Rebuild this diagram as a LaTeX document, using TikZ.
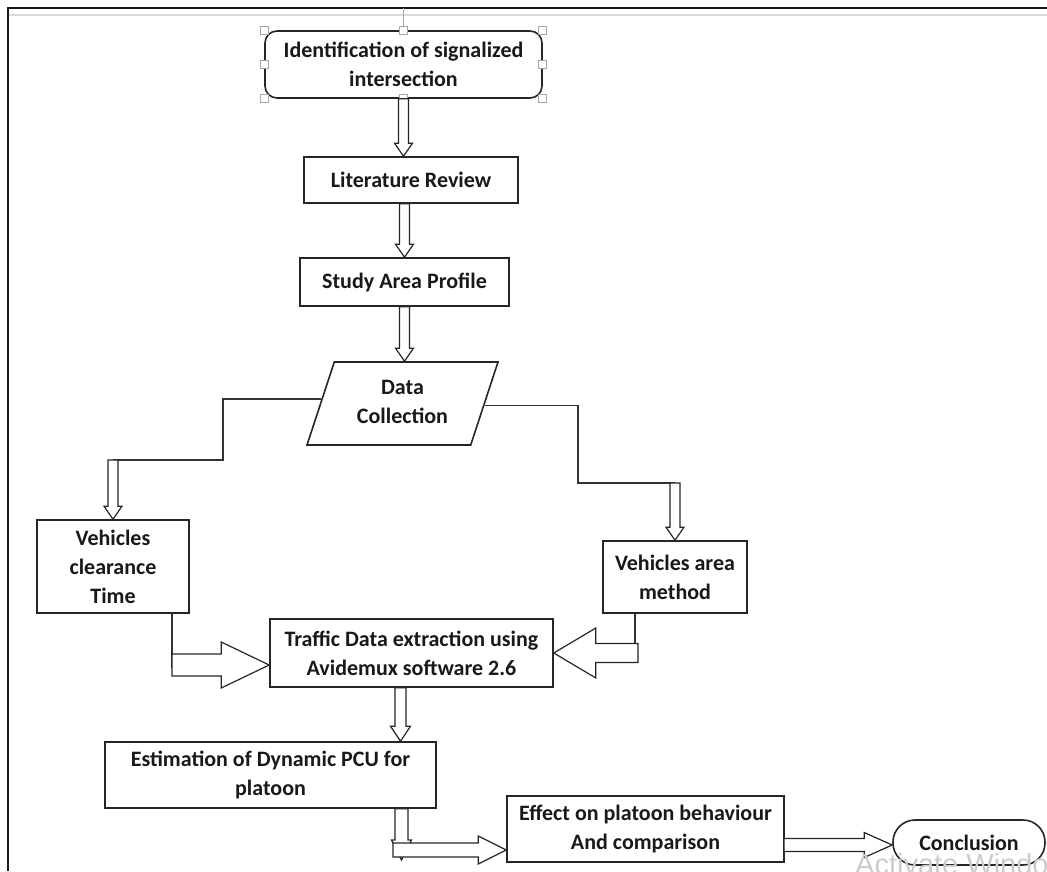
\documentclass[tikz,border=0pt]{standalone}
\usepackage{fontspec}
\setmainfont{Carlito}
\newfontfamily\wmfont{Liberation Sans}
\usetikzlibrary{calc,shapes.geometric}
\tikzset{
  box/.style={draw=black!85, line width=1.6pt, fill=white, inner sep=0pt, align=center,
    text=black!90, font=\bfseries\fontsize{22}{29}\selectfont},
  blk/.style={draw=black!85, line width=1.2pt, fill=white, line join=miter},
  conn/.style={draw=black!80, line width=1.4pt},
  handle/.style={draw=gray!70, fill=white, line width=0.8pt, minimum size=8pt, inner sep=0pt},
}
% block arrow: from, to, shaft half width, head half width, head length
\newcommand{\barrow}[5]{%
  \path[blk] let \p1=#1, \p2=#2, \n1={atan2(\y2-\y1,\x2-\x1)}, \n2={veclen(\x2-\x1,\y2-\y1)} in
    [shift={(\p1)}, rotate=\n1]
    (0pt,#3pt) -- ({(\n2-#5)*1pt},#3pt) -- ({(\n2-#5)*1pt},#4pt) -- ({\n2*1pt},0pt)
    -- ({(\n2-#5)*1pt},-#4pt) -- ({(\n2-#5)*1pt},-#3pt) -- (0pt,-#3pt) -- cycle;}
\begin{document}
\begin{tikzpicture}[x=1pt,y=-1pt]
\useasboundingbox (0,0) rectangle (1047,871);
% frame
\draw[line width=2pt, black!90] (8,871) -- (8,8) -- (1047,8);
\draw[gray!30, line width=2pt] (9,14.5) -- (1047,14.5);

% nodes
\node[box, rounded corners=12pt, minimum width=277pt, minimum height=67pt] (id) at (403.5,64.5)
  {Identification of signalized\\intersection};
\node[box, minimum width=214pt, minimum height=46pt] (lit) at (411,180) {Literature Review};
\node[box, minimum width=209pt, minimum height=48pt] (sap) at (404.5,282) {Study Area Profile};
\node[box, trapezium, trapezium left angle=64.8, trapezium right angle=115.2,
  trapezium stretches body, minimum width=191pt, minimum height=83pt] (dc) at (402.5,403.5)
  {\raisebox{7pt}{\begin{tabular}{@{}c@{}}Data\\Collection\end{tabular}}};
\node[box, minimum width=152pt, minimum height=93pt] (vct) at (113,566.5) {Vehicles\\clearance\\Time};
\node[box, minimum width=144pt, minimum height=72pt] (vam) at (675,577) {Vehicles area\\method};
\node[box, minimum width=283pt, minimum height=68pt] (tde) at (411.5,653)
  {Traffic Data extraction using\\Avidemux software 2.6};
\node[box, minimum width=331pt, minimum height=66pt] (est) at (270.5,775)
  {Estimation of Dynamic PCU for\\platoon};
\node[box, minimum width=277pt, minimum height=66pt] (eff) at (645.5,829)
  {Effect on platoon behaviour\\And comparison};
\node[box, rounded corners=22pt, minimum width=152pt, minimum height=45pt] (con) at (969,842.5)
  {Conclusion};

% selection handles of the first box
\coordinate (top) at (403.5,8);
\draw[gray!70, line width=0.8pt] (id.north) -- (top);
\foreach \a [count=\i] in {north west,north,north east,west,east,south west,south,south east}
  \node[handle] (h\i) at (id.\a) {};

% helper coordinates
\coordinate (dcL) at ($(dc.bottom left corner)!0.554!(dc.top left corner)$);
\coordinate (dcR) at ($(dc.bottom right corner)!0.48!(dc.top right corner)$);
\coordinate (la) at (113,460);
\coordinate (ra) at (675,483);
\coordinate (lb) at (172,665);
\coordinate (rl) at (635,645);
\coordinate (rb) at (638,653);
\coordinate (tb) at (400.5,700);
\coordinate (eb) at (401.5,860);
\coordinate (ec) at (393,850);
\coordinate (fc) at (784,845);

% connectors
\barrow{(id.south)}{(id.south |- lit.north)}{5}{9}{13}
\barrow{(sap.north |- lit.south)}{(sap.north)}{5}{9}{13}
\barrow{(sap.south)}{(sap.south |- dc.north)}{5}{9}{13}

\draw[conn] (dcL) -| (223,460) -- (la);
\barrow{(la)}{(vct.north)}{5}{9}{13}
\draw[conn] (dcR) -| (578,483) -- (ra);
\barrow{(ra)}{(vam.north)}{5}{9}{13}

\draw[conn] (lb |- vct.south) -- ($(lb)+(0,3)$);
\barrow{(lb)}{(lb -| tde.west)}{11}{23}{48}
\draw[conn] (rl |- vam.south) -- (rl);
\barrow{(rb)}{(rb -| tde.east)}{9.5}{25}{42}

\barrow{(tb |- tde.south)}{(tb |- est.north)}{5.5}{10}{15}
\barrow{(eb |- est.south)}{(eb)}{6.5}{10}{20}
\barrow{(ec)}{(ec -| eff.west)}{7}{14}{28}
\barrow{(fc)}{(fc -| con.west)}{6.5}{12.5}{28}

% screen watermark
\begin{scope}
\clip (0,0) rectangle (1047,871);
\node[anchor=north west, inner sep=0pt, text=gray!40, font=\wmfont\fontsize{29}{32}\selectfont]
  (wm) at (855,853) {Activate Windows};
\end{scope}
\end{tikzpicture}
\end{document}
